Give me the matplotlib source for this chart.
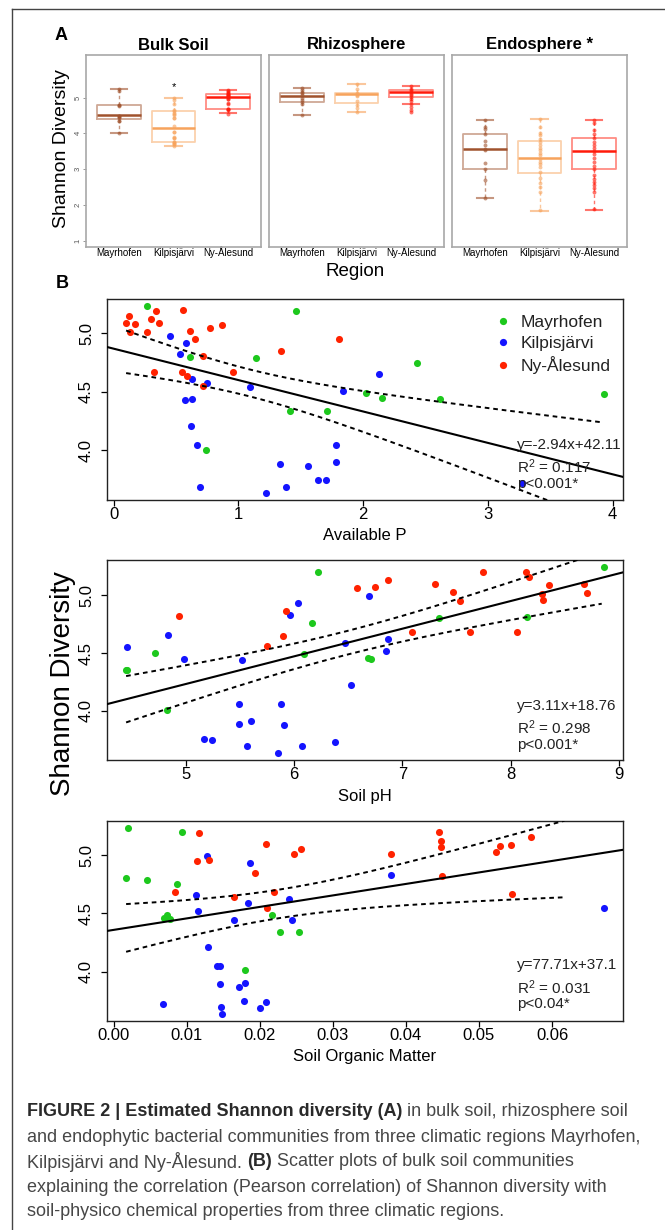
import numpy as np
import matplotlib
matplotlib.use("Agg")
import matplotlib.pyplot as plt
from matplotlib.lines import Line2D
from matplotlib import font_manager

plt.rcParams['font.family'] = ['Liberation Sans', 'DejaVu Sans']
plt.rcParams['mathtext.fontset'] = 'custom'
plt.rcParams['mathtext.rm'] = 'Liberation Sans'
plt.rcParams['mathtext.it'] = 'Liberation Sans:italic'
plt.rcParams['mathtext.bf'] = 'Liberation Sans:bold'

# ---------------- data ----------------
regions = ['Mayrhofen', 'Kilpisjärvi', 'Ny-Ålesund']
compartments = ['Bulk Soil', 'Rhizosphere', 'Endosphere *']
region_colors = ['#A0522D', '#F7A35C', '#FF1A0A']      # panel A
point_colors = ['#1DC81D', '#1414FF', '#FF2200']       # panel B

# Box statistics per compartment (rows) and region (columns)
whisker_low = [[4.02, 3.65, 4.57], [4.51, 4.60, 4.82], [2.19, 1.84, 1.86]]
quart_1 = [[4.40, 3.76, 4.68], [4.88, 4.85, 5.01], [3.00, 2.89, 3.00]]
medians = [[4.50, 4.14, 5.02], [5.04, 5.09, 5.16], [3.55, 3.31, 3.51]]
quart_3 = [[4.80, 4.61, 5.09], [5.12, 5.14, 5.20], [3.98, 3.78, 3.86]]
whisker_high = [[5.23, 4.99, 5.21], [5.28, 5.37, 5.31], [4.36, 4.40, 4.37]]

rhizo_may = [5.28, 5.22, 5.16, 5.12, 5.06, 5.00, 4.94, 4.88, 4.82, 4.51]
rhizo_kil = [5.37, 5.23, 5.14, 5.08, 5.03, 4.91, 4.80, 4.70, 4.60]
rhizo_ny = [5.31, 5.25, 5.20, 5.16, 5.11, 5.06, 5.01, 4.96, 4.89, 4.82, 4.73, 4.66, 4.60]
endo_may = [4.36, 4.19, 4.12, 3.98, 3.79, 3.66, 3.55, 3.53, 3.18, 3.01, 2.68, 2.19]
endo_kil = [4.40, 4.19, 4.02, 3.95, 3.85, 3.75, 3.66, 3.58, 3.52, 3.45, 3.39, 3.29,
            3.21, 3.13, 3.05, 2.93, 2.76, 2.60, 2.51, 2.37, 1.85]
endo_ny = [4.37, 4.28, 4.10, 3.98, 3.86, 3.77, 3.68, 3.58, 3.51, 3.43, 3.32, 3.21,
           3.09, 3.00, 2.82, 2.73, 2.65, 2.56, 2.47, 2.37, 1.87]
bulk_star_value = 5.29

# Panel B: Available P
p_may_x = [0.27, 1.46, 0.61, 1.14, 2.43, 2.02, 2.15, 2.62, 3.93, 1.41, 1.71, 0.74]
p_may_y = [5.23, 5.19, 4.80, 4.79, 4.75, 4.49, 4.45, 4.44, 4.48, 4.34, 4.34, 4.00]
p_kil_x = [0.45, 0.58, 0.53, 0.63, 0.75, 1.09, 2.13, 1.84, 0.57, 0.63, 0.62, 0.67,
           1.78, 1.78, 1.33, 1.56, 1.64, 1.70, 0.69, 1.38, 1.22, 3.27]
p_kil_y = [4.98, 4.92, 4.82, 4.61, 4.58, 4.54, 4.65, 4.51, 4.43, 4.44, 4.21, 4.05,
           4.05, 3.90, 3.88, 3.87, 3.75, 3.75, 3.69, 3.69, 3.64, 3.72]
p_ny_x = [0.10, 0.12, 0.17, 0.13, 0.27, 0.30, 0.34, 0.36, 0.56, 0.61, 0.65, 0.77,
          0.87, 0.72, 1.34, 1.81, 0.32, 0.55, 0.59, 0.96, 0.72]
p_ny_y = [5.09, 5.15, 5.08, 5.01, 5.01, 5.12, 5.19, 5.09, 5.20, 5.02, 4.95, 5.05,
          5.07, 4.81, 4.85, 4.95, 4.67, 4.67, 4.64, 4.67, 4.55]

# Panel B: Soil pH
ph_may_x = [6.22, 8.86, 6.17, 7.34, 8.15, 4.72, 6.09, 6.68, 6.71, 4.45, 4.46, 4.83]
ph_may_y = [5.20, 5.24, 4.76, 4.80, 4.81, 4.50, 4.49, 4.46, 4.45, 4.35, 4.35, 4.01]
ph_kil_x = [4.46, 4.84, 4.98, 5.52, 6.04, 5.96, 6.69, 6.47, 6.87, 6.85, 6.53, 5.49,
            5.88, 5.60, 5.49, 5.91, 5.17, 5.24, 5.57, 6.07, 5.85, 6.38]
ph_kil_y = [4.55, 4.66, 4.45, 4.44, 4.93, 4.83, 4.99, 4.59, 4.62, 4.52, 4.22, 4.06,
            4.06, 3.91, 3.89, 3.88, 3.76, 3.75, 3.70, 3.70, 3.64, 3.73]
ph_ny_x = [4.94, 5.93, 5.90, 5.75, 6.58, 6.75, 6.87, 7.09, 7.30, 7.47, 7.53, 7.74,
           7.62, 8.14, 8.17, 8.06, 8.29, 8.30, 8.35, 8.68, 8.70]
ph_ny_y = [4.82, 4.86, 4.65, 4.56, 5.06, 5.07, 5.13, 4.68, 5.10, 5.03, 4.95, 5.20,
           4.68, 5.20, 5.16, 4.68, 5.01, 4.96, 5.09, 5.10, 5.02]

# Panel B: Soil organic matter
som_may_x = [0.0020, 0.0093, 0.0017, 0.0046, 0.0087, 0.0069, 0.0073, 0.0077,
             0.0217, 0.0228, 0.0253, 0.0180]
som_may_y = [5.23, 5.20, 4.80, 4.79, 4.75, 4.46, 4.49, 4.45, 4.49, 4.34, 4.34, 4.01]
som_kil_x = [0.0128, 0.0187, 0.0113, 0.0116, 0.0184, 0.0164, 0.0240, 0.0244, 0.0380,
             0.0671, 0.0129, 0.0141, 0.0146, 0.0146, 0.0172, 0.0180, 0.0179, 0.0208,
             0.0200, 0.0068, 0.0147, 0.0148]
som_kil_y = [4.99, 4.93, 4.66, 4.52, 4.59, 4.44, 4.62, 4.44, 4.83, 4.55, 4.21, 4.05,
             4.05, 3.89, 3.87, 3.90, 3.75, 3.74, 3.69, 3.72, 3.70, 3.64]
som_ny_x = [0.0117, 0.0209, 0.0114, 0.0131, 0.0084, 0.0164, 0.0193, 0.0220, 0.0210,
            0.0247, 0.0257, 0.0380, 0.0445, 0.0448, 0.0448, 0.0450, 0.0523, 0.0529,
            0.0544, 0.0545, 0.0571]
som_ny_y = [5.19, 5.10, 4.95, 4.96, 4.68, 4.64, 4.85, 4.68, 4.55, 5.01, 5.05, 5.01,
            5.20, 5.12, 5.07, 4.82, 5.03, 5.08, 5.09, 4.67, 5.16]

x_labels = ['Available P', 'Soil pH', 'Soil Organic Matter']
x_ticks = [[0, 1, 2, 3, 4], [5, 6, 7, 8, 9], [0.00, 0.01, 0.02, 0.03, 0.04, 0.05, 0.06]]
x_ticklabels = [['0', '1', '2', '3', '4'], ['5', '6', '7', '8', '9'],
                ['0.00', '0.01', '0.02', '0.03', '0.04', '0.05', '0.06']]
y_ticks_B = [4.0, 4.5, 5.0]
eq_texts = ['y=-2.94x+42.11', 'y=3.11x+18.76', 'y=77.71x+37.1']
r2_texts = ['0.117', '0.298', '0.031']
p_texts = ['p<0.001*', 'p<0.001*', 'p<0.04*']
band_x_ranges = [(0.10, 3.92), (4.45, 8.84), (0.0017, 0.0617)]
t95 = 2.006

caption_lines = [
    [("FIGURE 2 | Estimated Shannon diversity (A)", True), (" in bulk soil, rhizosphere soil", False)],
    [("and endophytic bacterial communities from three climatic regions Mayrhofen,", False)],
    [("Kilpisjärvi and Ny-Ålesund. ", False), ("(B)", True), (" Scatter plots of bulk soil communities", False)],
    [("explaining the correlation (Pearson correlation) of Shannon diversity with", False)],
    [("soil-physico chemical properties from three climatic regions.", False)],
]

# pick a narrow sans for the caption if one is installed
try:
    font_manager.findfont('Liberation Sans Narrow', fallback_to_default=False)
    caption_family = ['Liberation Sans Narrow', 'Liberation Sans', 'DejaVu Sans']
except Exception:
    caption_family = ['Liberation Sans', 'DejaVu Sans']

# ---------------- figure ----------------
W, H = 665, 1230
fig = plt.figure(figsize=(W / 100, H / 100), dpi=100)
fig.patch.set_facecolor('white')


def px_axes(x0, y0, x1, y1):
    return fig.add_axes([x0 / W, 1 - y1 / H, (x1 - x0) / W, (y1 - y0) / H])


def ftext(x, y, s, **kw):
    return fig.text(x / W, 1 - y / H, s, **kw)


# outer border (top + left)
fig.add_artist(Line2D([12 / W, 1], [1 - 9 / H, 1 - 9 / H], transform=fig.transFigure,
                      color='#444444', lw=1.0))
fig.add_artist(Line2D([12 / W, 12 / W], [1 - 9 / H, 0], transform=fig.transFigure,
                      color='#444444', lw=1.0))

# ---------------- panel A ----------------
points_A = [[p_may_y, p_kil_y, p_ny_y], [rhizo_may, rhizo_kil, rhizo_ny],
            [endo_may, endo_kil, endo_ny]]
boxA_x = [(86, 261), (269, 444), (452, 627)]
for ci in range(3):
    x0, x1 = boxA_x[ci]
    ax = px_axes(x0, 55, x1, 247)
    for sp in ax.spines.values():
        sp.set_color('#a8a8a8')
        sp.set_linewidth(1.2)
    for ri in range(3):
        c = region_colors[ri]
        st = dict(whislo=whisker_low[ci][ri], q1=quart_1[ci][ri], med=medians[ci][ri],
                  q3=quart_3[ci][ri], whishi=whisker_high[ci][ri], fliers=[])
        ax.bxp([st], positions=[ri + 1], widths=0.8, showfliers=False, capwidths=0.3,
               boxprops=dict(color=c, alpha=0.5, linewidth=1.3),
               medianprops=dict(color=c, linewidth=1.8, solid_capstyle='butt'),
               whiskerprops=dict(color=c, alpha=0.6, linewidth=1.0, linestyle=(0, (2.5, 2))),
               capprops=dict(color=c, alpha=0.6, linewidth=1.5))
        pts = points_A[ci][ri]
        ax.scatter(np.full(len(pts), ri + 1), pts, s=8, color=c, alpha=0.6,
                   linewidths=0, zorder=3)
    if ci == 0:
        ax.text(2, bulk_star_value, '*', ha='center', va='center', fontsize=8)
    ax.set_xlim(0.39, 3.61)
    ax.set_ylim(0.82, 6.19)
    ax.set_xticks([1, 2, 3])
    ax.set_xticklabels(regions, fontsize=7, va='baseline')
    ax.tick_params(axis='x', length=0, pad=6.6)
    if ci == 0:
        ax.set_yticks([1, 2, 3, 4, 5])
        ax.set_yticklabels(['1', '2', '3', '4', '5'], rotation=90, va='center',
                           fontsize=5.5, color='#555555')
        ax.tick_params(axis='y', length=2, width=0.6, color='#888888', pad=1)
    else:
        ax.set_yticks([])
    ftext((x0 + x1) / 2, 45, compartments[ci], fontsize=12, fontweight='bold',
          ha='center', va='center')

ftext(61, 36, 'A', fontsize=13, fontweight='bold', ha='center', va='center')
ftext(62, 149, 'Shannon Diversity', fontsize=14, rotation=90, ha='center', va='center')
ftext(355, 271, 'Region', fontsize=13.5, ha='center', va='center')
ftext(62, 283, 'B', fontsize=13, fontweight='bold', ha='center', va='center')

# ---------------- panel B ----------------
scatter_sets = [
    [(p_may_x, p_may_y), (p_kil_x, p_kil_y), (p_ny_x, p_ny_y)],
    [(ph_may_x, ph_may_y), (ph_kil_x, ph_kil_y), (ph_ny_x, ph_ny_y)],
    [(som_may_x, som_may_y), (som_kil_x, som_kil_y), (som_ny_x, som_ny_y)],
]
scatter_rows = [(299, 500), (560, 760), (821, 1021)]
annot_y = [[445, 467, 484], [706, 728, 745], [965, 988, 1004]]
xlabel_y = [535, 797, 1057]

for pi in range(3):
    y0, y1 = scatter_rows[pi]
    ax = px_axes(107, y0, 623, y1)
    allx, ally = [], []
    for ri, (xs, ys) in enumerate(scatter_sets[pi]):
        ax.scatter(xs, ys, s=26, color=point_colors[ri], linewidths=0, zorder=2)
        allx += list(xs)
        ally += list(ys)
    allx = np.array(allx)
    ally = np.array(ally)
    slope, icpt = np.polyfit(allx, ally, 1)
    n = len(allx)
    xm = allx.mean()
    sxx = ((allx - xm) ** 2).sum()
    resid = ally - (icpt + slope * allx)
    s = np.sqrt((resid ** 2).sum() / (n - 2))
    xb = np.linspace(band_x_ranges[pi][0], band_x_ranges[pi][1], 200)
    hw = t95 * s * np.sqrt(1 / n + (xb - xm) ** 2 / sxx)
    ax.axline((xm, icpt + slope * xm), slope=slope, color='black', lw=1.5, zorder=3)
    ax.plot(xb, icpt + slope * xb + hw, color='black', lw=1.4, ls=(0, (2.4, 2)), zorder=3)
    ax.plot(xb, icpt + slope * xb - hw, color='black', lw=1.4, ls=(0, (2.4, 2)), zorder=3)

    xr = allx.max() - allx.min()
    yr = ally.max() - ally.min()
    ax.set_xlim(allx.min() - 0.04 * xr, allx.max() + 0.04 * xr)
    ax.set_ylim(ally.min() - 0.04 * yr, ally.max() + 0.04 * yr)
    ax.set_xticks(x_ticks[pi])
    ax.set_xticklabels(x_ticklabels[pi], fontsize=12)
    ax.set_yticks(y_ticks_B)
    ax.set_yticklabels(['%.1f' % v for v in y_ticks_B], rotation=90, va='center',
                       fontsize=12)
    ax.tick_params(axis='both', direction='out', length=4.3, width=0.9, color='black')
    ax.tick_params(axis='x', pad=1)
    ax.tick_params(axis='y', pad=5)
    for sp in ax.spines.values():
        sp.set_linewidth(1.0)
        sp.set_color('#222222')

    ftext(517, annot_y[pi][0], eq_texts[pi], fontsize=11, ha='left', va='center', color='#222222')
    ftext(517, annot_y[pi][1], r'$\mathregular{R^2}$ = ' + r2_texts[pi], fontsize=11,
          ha='left', va='center', color='#222222')
    ftext(517, annot_y[pi][2], p_texts[pi], fontsize=11, ha='left', va='center', color='#222222')
    ftext(365, xlabel_y[pi], x_labels[pi], fontsize=12, ha='center', va='center')

    if pi == 0:
        handles = [Line2D([], [], marker='o', ls='', color=c, markersize=5.2, markeredgewidth=0)
                   for c in point_colors]
        leg = ax.legend(handles, regions, loc='upper left',
                        bbox_to_anchor=(496 / W, 1 - 315 / H), bbox_transform=fig.transFigure,
                        frameon=False, fontsize=12.5, handlelength=0.8, handletextpad=0.6,
                        labelspacing=0.32, borderpad=0, borderaxespad=0)
        for t in leg.get_texts():
            t.set_color('#222222')

ftext(63, 684, 'Shannon Diversity', fontsize=20, rotation=90, ha='center', va='center')

# ---------------- caption ----------------
renderer = fig.canvas.get_renderer()


def text_width(s, size, bold):
    t = fig.text(0, 0, s, fontsize=size, fontweight='bold' if bold else 'normal',
                 family=caption_family)
    w = t.get_window_extent(renderer=renderer).width
    t.remove()
    return w


base = 12.0
cap_size = base * 614.0 / text_width(caption_lines[1][0][0], base, False)
caption_y = [1112, 1137, 1162, 1187, 1212]
for li, segs in enumerate(caption_lines):
    x = 27.0
    for txt, bold in segs:
        sw = text_width('a a', cap_size, bold) - text_width('aa', cap_size, bold)
        lead = len(txt) - len(txt.lstrip(' '))
        trail = len(txt) - len(txt.rstrip(' '))
        core = txt.strip(' ')
        x += lead * sw
        t = ftext(x, caption_y[li], core, fontsize=cap_size, family=caption_family,
                  fontweight='bold' if bold else 'normal',
                  color='#2a2a2a' if bold else '#474747', ha='left', va='center')
        x += t.get_window_extent(renderer=renderer).width + trail * sw

fig.savefig('out.png', dpi=100, facecolor='white')
